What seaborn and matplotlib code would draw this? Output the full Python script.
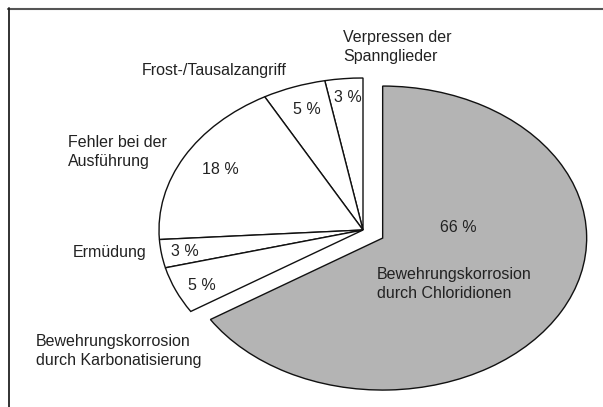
import matplotlib
matplotlib.use('Agg')
import matplotlib.pyplot as plt
import seaborn as sns
from matplotlib.lines import Line2D

# Schadensursachen (Anteile in %)
ursachen = ['Verpressen der\nSpannglieder', 'Frost-/Tausalzangriff', 'Fehler bei der\nAusführung',
            'Ermüdung', 'Bewehrungskorrosion\ndurch Karbonatisierung',
            'Bewehrungskorrosion\ndurch Chloridionen']
anteile = [3, 5, 18, 3, 5, 66]

sns.set_theme(style='white')
plt.rcParams['font.family'] = ['Liberation Sans', 'DejaVu Sans']

W, H = 603, 407
fig = plt.figure(figsize=(W / 100, H / 100), dpi=100)
ax = fig.add_axes([0, 0, 1, 1])

farben = ['white'] * 5 + ['#b4b4b4']
explode = [0, 0, 0, 0, 0, 0.11]
ax.pie(anteile, colors=farben, explode=explode, startangle=90, counterclock=True,
       wedgeprops=dict(edgecolor='#111111', linewidth=1.0))

# elliptische Darstellung: Mittelpunkt bei (363, 230) px, Radien 204 x 152 px
cx, cy, rx, ry = 363, 230, 204, 152
ax.set_aspect('auto')
ax.set_xlim((0 - cx) / rx, (W - cx) / rx)
ax.set_ylim((cy - H) / ry, cy / ry)
ax.axis('off')


def fp(x, y):
    return x / W, 1 - y / H


fs = 11.5
txt = dict(fontsize=fs, color='#222222', linespacing=1.4)

# Beschriftungen
fig.text(*fp(343, 47), ursachen[0], ha='left', va='center', **txt)
fig.text(*fp(214, 71), ursachen[1], ha='center', va='center', **txt)
fig.text(*fp(68, 152), ursachen[2], ha='left', va='center', **txt)
fig.text(*fp(146, 253), ursachen[3], ha='right', va='center', **txt)
fig.text(*fp(36, 351), ursachen[4], ha='left', va='center', **txt)
fig.text(*fp(377, 284), ursachen[5], ha='left', va='center', **txt)

# Prozentwerte
pos_prozent = [(348, 97), (307, 109), (220, 170), (185, 252), (202, 285), (458, 228)]
for (x, y), v in zip(pos_prozent, anteile):
    fig.text(*fp(x, y), f'{v} %', ha='center', va='center', **txt)

# Rahmen oben und links
fig.add_artist(Line2D([8 / W, 1], [1 - 8.5 / H, 1 - 8.5 / H], color='#555555', lw=1.5,
                      transform=fig.transFigure))
fig.add_artist(Line2D([8.5 / W, 8.5 / W], [0, 1 - 8 / H], color='#222222', lw=1.3,
                      transform=fig.transFigure))

fig.savefig('out.png', dpi=100, facecolor='white')
